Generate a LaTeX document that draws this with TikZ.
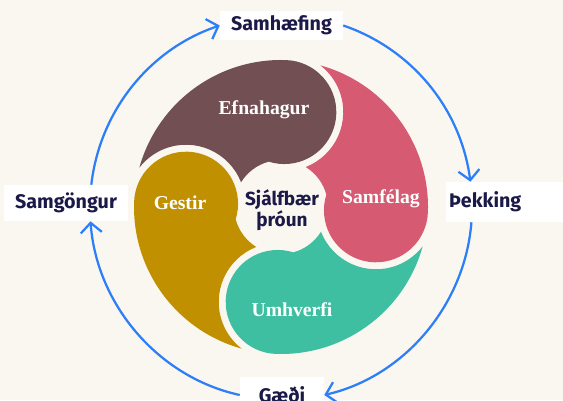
\documentclass[tikz,border=0pt]{standalone}
\usepackage{fontspec}
\setmainfont{Liberation Serif}
\newfontfamily\labelfont{Fira Sans}
\usetikzlibrary{arrows.meta}

\definecolor{creambg}{HTML}{FAF7F0}
\definecolor{ringblue}{HTML}{2D7FF9}
\definecolor{inknavy}{HTML}{1A1947}
\definecolor{efnabrown}{HTML}{714F52}
\definecolor{samfpink}{HTML}{D65A72}
\definecolor{umhvteal}{HTML}{3EBFA1}
\definecolor{gestgold}{HTML}{C09000}

\begin{document}
\begin{tikzpicture}[x=0.025cm, y=0.025cm,
    petaltext/.style={text=white, font=\fontsize{14pt}{14pt}\selectfont\bfseries},
    coretext/.style={text=inknavy, align=center, font=\labelfont\bfseries\fontsize{13.5pt}{14.5pt}\selectfont},
    ringlabel/.style={fill=white, text=inknavy, inner sep=0pt, font=\labelfont\bfseries\fontsize{14pt}{14pt}\selectfont},
    cycarrow/.style={line width=1.6pt, color=ringblue, looseness=0.93, -{Straight Barb[length=7pt,width=15pt]}}]
                  % cream page
                  \fill [creambg] (0,0) rectangle (563,400);
                  \useasboundingbox (0,0) rectangle (563,400);
                  % Efnahagur petal top
                  \fill [efnabrown, shift={(281,193)}, rotate=-2] (166.4:147) arc[start angle=166.4, end angle=90, radius=147] arc[start angle=90, end angle=-105.5, radius=52] arc[start angle=107.2, end angle=150.3, radius=47] arc[start angle=23.3, end angle=144.2, radius=59] -- cycle;
                  % Samfelag petal right
                  \fill [samfpink, shift={(281,193)}, rotate=-92] (166.4:147) arc[start angle=166.4, end angle=90, radius=147] arc[start angle=90, end angle=-105.5, radius=52] arc[start angle=107.2, end angle=150.3, radius=47] arc[start angle=23.3, end angle=144.2, radius=59] -- cycle;
                  % Umhverfi petal bottom
                  \fill [umhvteal, shift={(281,193)}, rotate=-182] (166.4:147) arc[start angle=166.4, end angle=90, radius=147] arc[start angle=90, end angle=-105.5, radius=52] arc[start angle=107.2, end angle=150.3, radius=47] arc[start angle=23.3, end angle=144.2, radius=59] -- cycle;
                  % Gestir petal left
                  \fill [gestgold, shift={(281,193)}, rotate=88] (166.4:147) arc[start angle=166.4, end angle=90, radius=147] arc[start angle=90, end angle=-105.5, radius=52] arc[start angle=107.2, end angle=150.3, radius=47] arc[start angle=23.3, end angle=144.2, radius=59] -- cycle;
                  % petal texts
                  \node [petaltext] (efna) at (264,290) {Efnahagur};
                  \node [petaltext] (samf) at (381,201) {Samfélag};
                  \node [petaltext] (umhv) at (292,90) {Umhverfi};
                  \node [petaltext] (gest) at (180,197) {Gestir};
                  % centre text
                  \node [coretext] (core) at (282,190) {Sjálfbær\\þróun};
                  % ring labels
                  \node [ringlabel, minimum width=3.075cm, minimum height=0.725cm] (samh) at (281.5,374.5) {Samhæfing};
                  \node [ringlabel, minimum width=3.1cm, minimum height=0.9cm] (samg) at (66,197) {Samgöngur};
                  \node [ringlabel, anchor=west, text width=3.2cm, inner xsep=2pt, minimum height=1cm, align=left] (pekk) at (446,198) {Þekking};
                  \node [ringlabel, minimum width=2.1cm, minimum height=0.9cm] (gaedi) at (282,5) {Gæði};
                  % ring arrows clockwise
                  \draw [cycarrow] (samh.east) to [out=-19, in=97.5] ([shift={(24.4,0)}]pekk.north west);
                  \draw [cycarrow] ([shift={(25.4,0)}]pekk.south west) to [out=-94.5, in=13] (gaedi.east);
                  \draw [cycarrow] (gaedi.west) to [out=167.7, in=-85.8] ([shift={(24.5,0)}]samg.south);
                  \draw [cycarrow] ([shift={(25.3,0)}]samg.north) to [out=83.4, in=198.6] (samh.west);
\end{tikzpicture}
\end{document}
